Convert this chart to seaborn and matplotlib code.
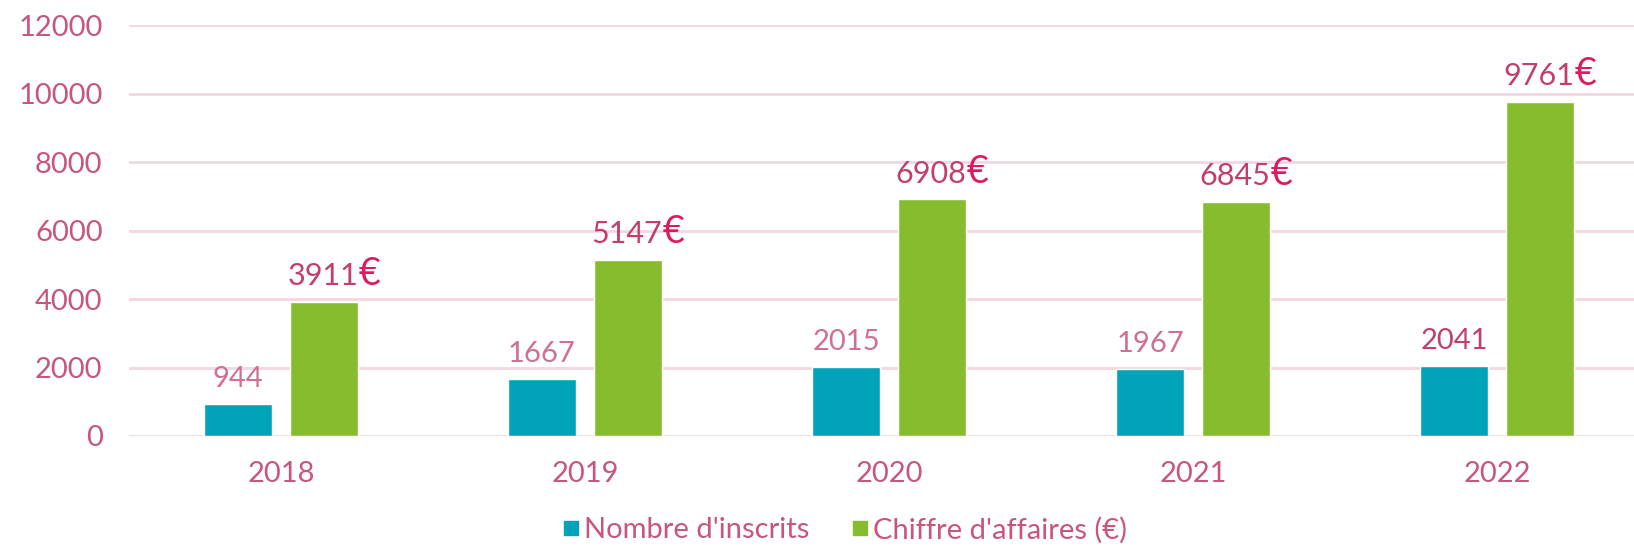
import pandas as pd
import matplotlib.pyplot as plt
import seaborn as sns
from matplotlib.lines import Line2D

# Data
years = ["2018", "2019", "2020", "2021", "2022"]
inscrits = [944, 1667, 2015, 1967, 2041]
chiffre = [3911, 5147, 6908, 6845, 9761]
series_names = ["Nombre d'inscrits", "Chiffre d'affaires (€)"]
y_ticks = [0, 2000, 4000, 6000, 8000, 10000, 12000]

BLUE = "#00A3B8"
GREEN = "#86BC2E"
TEXT = "#C8567A"
LABEL_LIGHT = "#D0708F"
LABEL_DARK = "#C23F68"
EURO = "#DE1A5E"
GRID = "#F3D6E0"


def build_frame():
    df = pd.DataFrame({
        "year": years * 2,
        "value": inscrits + chiffre,
        "series": [series_names[0]] * len(years) + [series_names[1]] * len(years),
    })
    return df


def plot_chart(df):
    sns.set_theme(style="white")
    plt.rcParams["font.family"] = ["Lato", "DejaVu Sans"]

    fig = plt.figure(figsize=(16.34, 5.46), dpi=100)
    ax = fig.add_axes([129 / 1634, 110 / 546, 1 - 129 / 1634, (436 - 25) / 546])

    sns.barplot(data=df, x="year", y="value", hue="series",
                palette=[BLUE, GREEN], width=0.566, gap=0.2,
                saturation=1, legend=False, ax=ax)

    ax.set_xlim(-0.5, -0.5 + (1634 - 129) / 304)
    ax.set_ylim(0, 12000)
    ax.set_yticks(y_ticks)
    ax.set_yticklabels([str(t) for t in y_ticks])
    ax.set_xlabel("")
    ax.set_ylabel("")
    for s in ax.spines.values():
        s.set_visible(False)
    ax.grid(axis="y", color=GRID, linewidth=2)
    ax.set_axisbelow(True)
    ax.tick_params(axis="both", length=0, labelsize=21, colors=TEXT)
    ax.tick_params(axis="y", pad=19)
    ax.tick_params(axis="x", pad=18)

    # labels for inscrits (light, last one darker)
    for i, bar in enumerate(ax.containers[0]):
        cx = bar.get_x() + bar.get_width() / 2
        h = bar.get_height()
        last = i == len(inscrits) - 1
        ax.annotate(str(inscrits[i]), (cx, h), xytext=(0, 12),
                    textcoords="offset points", ha="center", va="baseline",
                    fontsize=21, color=LABEL_DARK if last else LABEL_LIGHT)

    # labels for chiffre d'affaires with euro sign
    for i, bar in enumerate(ax.containers[1]):
        right = bar.get_x() + bar.get_width()
        h = bar.get_height()
        ax.annotate(str(chiffre[i]), (right, h), xytext=(0, 12),
                    textcoords="offset points", ha="right", va="baseline",
                    fontsize=22, color=LABEL_DARK)
        ax.annotate("€", (right, h), xytext=(0, 12),
                    textcoords="offset points", ha="left", va="baseline",
                    fontsize=27, color=EURO)

    handles = [Line2D([], [], marker="s", linestyle="", markersize=10,
                      markerfacecolor=c, markeredgecolor=c) for c in (BLUE, GREEN)]
    fig.legend(handles, series_names, loc="center", bbox_to_anchor=(844 / 1634, 16 / 546),
               ncol=2, frameon=False, fontsize=21, labelcolor=TEXT,
               handletextpad=0.1, columnspacing=1.4, handlelength=0.7)

    fig.savefig("out.png", dpi=100)


def main():
    df = build_frame()
    plot_chart(df)


if __name__ == "__main__":
    main()
